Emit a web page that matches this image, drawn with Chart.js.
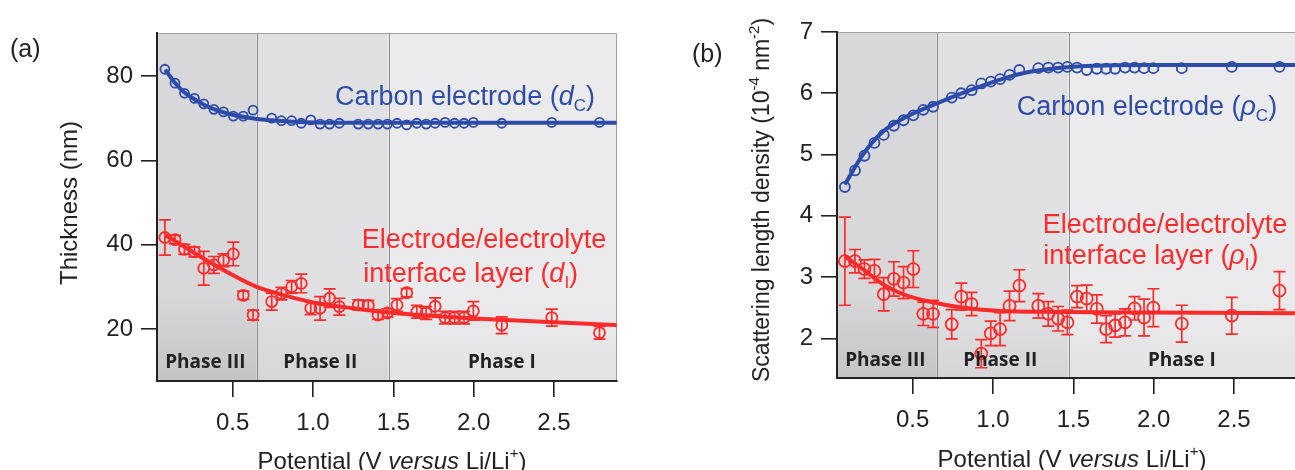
<!DOCTYPE html>
<html>
<head>
<meta charset="utf-8">
<script src="https://cdn.jsdelivr.net/npm/chart.js@4.4.0/dist/chart.umd.min.js"></script>
<style>
  html, body { margin: 0; padding: 0; background: #fff; overflow: hidden; }
  #wrap { position: relative; width: 1295px; height: 470px; overflow: hidden; }
  #boxA { position: absolute; left: 0; top: 0; }
  #boxB { position: absolute; left: 680px; top: 0; }
</style>
</head>
<body>
<div id="wrap">
  <div id="boxA"><canvas id="chartA" width="640" height="470"></canvas></div>
  <div id="boxB"><canvas id="chartB" width="640" height="470"></canvas></div>
</div>
<script>
// measured potentials (V vs Li/Li+), shared by all four series
const potential = [0.078, 0.141, 0.2, 0.262, 0.32, 0.383, 0.443, 0.504, 0.566, 0.627,
  0.743, 0.803, 0.867, 0.927, 0.986, 1.044, 1.103, 1.164, 1.282, 1.344, 1.405, 1.463,
  1.523, 1.583, 1.646, 1.704, 1.76, 1.822, 1.881, 1.94, 1.998, 2.175, 2.486, 2.783];

// (a) thickness, nm
const thickCarbon = [81.6, 78.3, 75.9, 74.7, 73.4, 72.1, 71.5, 70.5, 70.5, 71.9,
  70.0, 69.4, 69.4, 68.8, 69.6, 68.6, 68.6, 68.8, 68.6, 68.6, 68.6, 68.6,
  68.8, 68.4, 68.8, 68.6, 68.8, 69.0, 68.8, 68.8, 69.0, 68.8, 69.0, 69.0];
const thickLayer = [41.7, 41.2, 38.9, 38.3, 34.4, 35.2, 36.3, 37.8, 28.0, 23.3,
  26.5, 28.4, 30.0, 30.8, 24.9, 24.9, 27.3, 25.3, 25.7, 25.6, 23.3, 23.8,
  25.7, 28.6, 24.1, 23.8, 25.4, 22.7, 22.7, 22.7, 24.3, 20.9, 22.7, 19.1];
const thickLayerErr = [4.2, 1.0, 1.2, 1.2, 4.0, 2.0, 1.5, 2.8, 1.0, 1.2,
  2.0, 1.5, 1.5, 2.2, 1.5, 2.8, 2.2, 2.0, 1.2, 1.2, 1.0, 1.0,
  1.5, 1.0, 1.5, 1.5, 2.0, 1.5, 1.5, 1.5, 2.2, 2.0, 2.0, 1.5];

// (b) scattering length density, 10^-4 nm^-2
const sldCarbon = [4.47, 4.74, 4.98, 5.19, 5.32, 5.47, 5.56, 5.64, 5.73, 5.78,
  5.93, 6.00, 6.05, 6.16, 6.19, 6.23, 6.30, 6.38, 6.41, 6.42, 6.42, 6.43,
  6.42, 6.38, 6.40, 6.40, 6.40, 6.42, 6.42, 6.41, 6.41, 6.41, 6.43, 6.43];
const sldLayer = [3.26, 3.26, 3.13, 3.10, 2.72, 2.97, 2.91, 3.13, 2.40, 2.40,
  2.23, 2.68, 2.56, 1.75, 2.08, 2.15, 2.53, 2.86, 2.53, 2.40, 2.32, 2.26,
  2.68, 2.65, 2.48, 2.15, 2.21, 2.26, 2.49, 2.34, 2.50, 2.24, 2.37, 2.78];
const sldLayerErr = [0.72, 0.19, 0.15, 0.19, 0.27, 0.28, 0.26, 0.30, 0.19, 0.22,
  0.24, 0.22, 0.19, 0.23, 0.20, 0.27, 0.24, 0.26, 0.20, 0.20, 0.20, 0.20,
  0.18, 0.22, 0.23, 0.22, 0.19, 0.22, 0.19, 0.30, 0.31, 0.30, 0.30, 0.31];

// fitted curves
const fitThickCarbonV = [0.08, 0.14, 0.2, 0.27, 0.33, 0.4, 0.5, 0.6, 0.7, 0.85, 1.0, 1.2, 1.5, 2.0, 2.89];
const fitThickCarbon = [81.5, 78.4, 76.1, 74.3, 73.0, 71.9, 70.8, 70.1, 69.6, 69.2, 69.0, 68.9, 68.9, 68.9, 68.9];
const fitThickLayerV = [0.08, 0.2, 0.35, 0.5, 0.65, 0.8, 1.0, 1.25, 1.5, 1.75, 2.0, 2.5, 2.89];
const fitThickLayer = [42.3, 39.5, 36.0, 32.8, 30.0, 28.2, 26.3, 24.9, 23.8, 23.1, 22.5, 21.6, 20.9];
const fitSldCarbonV = [0.078, 0.19, 0.317, 0.44, 0.628, 0.857, 1.064, 1.23, 1.48, 2.0, 2.89];
const fitSldCarbon = [4.51, 5.0, 5.38, 5.59, 5.81, 6.05, 6.24, 6.35, 6.43, 6.46, 6.46];
const fitSldLayerV = [0.078, 0.19, 0.317, 0.44, 0.587, 0.815, 1.02, 1.44, 2.0, 2.89];
const fitSldLayer = [3.34, 3.13, 2.88, 2.72, 2.61, 2.50, 2.45, 2.43, 2.42, 2.41];

const phaseBounds = [0.65, 1.47];
const phaseNames = ['Phase III', 'Phase II', 'Phase I'];
const phaseLabelV = [0.33, 1.045, 2.175];
const xTicks = [0.5, 1.0, 1.5, 2.0, 2.5];
const yTicksA = [20, 40, 60, 80];
const yTicksB = [2, 3, 4, 5, 6, 7];

const BLUE = '#2d4caa';
const RED = '#ff2a2a';
const INK = '#222';
const FONT = '"Liberation Sans", Arial, sans-serif';

function pairs(xs, ys) {
  return xs.map((v, i) => ({x: v, y: ys[i]}));
}

// draws text made of differently styled pieces: [text, font, dy]
function richText(ctx, parts, x, y, align, rot) {
  ctx.save();
  ctx.translate(x, y);
  if (rot) ctx.rotate(rot);
  let w = 0;
  parts.forEach(p => { ctx.font = p[1]; w += ctx.measureText(p[0]).width; });
  let cx = align === 'center' ? -w / 2 : 0;
  ctx.textBaseline = 'alphabetic';
  ctx.textAlign = 'left';
  parts.forEach(p => {
    ctx.font = p[1];
    ctx.fillText(p[0], cx, p[2] || 0);
    cx += ctx.measureText(p[0]).width;
  });
  ctx.restore();
}

const errorBars = {
  id: 'errorBars',
  afterDatasetDraw(chart, args) {
    const ds = chart.data.datasets[args.index];
    if (!ds.errors) return;
    const {ctx, scales: {x, y}} = chart;
    ctx.save();
    ctx.strokeStyle = ds.borderColor;
    ctx.lineWidth = 1.7;
    ds.data.forEach((p, i) => {
      const e = ds.errors[i];
      const px = x.getPixelForValue(p.x);
      const top = y.getPixelForValue(p.y + e);
      const bot = y.getPixelForValue(p.y - e);
      ctx.beginPath();
      ctx.moveTo(px, top); ctx.lineTo(px, bot);
      ctx.moveTo(px - 6, top); ctx.lineTo(px + 6, top);
      ctx.moveTo(px - 6, bot); ctx.lineTo(px + 6, bot);
      ctx.stroke();
    });
    ctx.restore();
  }
};

const phaseShade = {
  id: 'phaseShade',
  beforeDraw(chart) {
    const {ctx, chartArea: a, scales: {x}} = chart;
    const edges = [a.left, x.getPixelForValue(phaseBounds[0]), x.getPixelForValue(phaseBounds[1]), a.right];
    const shades = [['#d8d8da', '#c4c4c6'], ['#e1e1e3', '#d6d6d8'], ['#ebebed', '#e3e3e5']];
    ctx.save();
    for (let i = 0; i < 3; i++) {
      const g = ctx.createLinearGradient(0, a.top, 0, a.bottom);
      g.addColorStop(0, shades[i][0]);
      g.addColorStop(0.75, shades[i][0]);
      g.addColorStop(1, shades[i][1]);
      ctx.fillStyle = g;
      ctx.fillRect(edges[i], a.top, edges[i + 1] - edges[i], a.bottom - a.top);
    }
    ctx.strokeStyle = '#8c8c8c';
    ctx.lineWidth = 1;
    [edges[1], edges[2]].forEach(px => {
      ctx.beginPath();
      ctx.moveTo(Math.round(px) + 0.5, a.top);
      ctx.lineTo(Math.round(px) + 0.5, a.bottom);
      ctx.stroke();
    });
    ctx.strokeStyle = '#a0a0a0';
    ctx.beginPath();
    ctx.moveTo(a.left, a.top + 0.5);
    ctx.lineTo(a.right - 0.5, a.top + 0.5);
    ctx.lineTo(a.right - 0.5, a.bottom);
    ctx.stroke();
    ctx.restore();
  }
};

function decoPlugin(cfg) {
  return {
    id: 'deco',
    afterDraw(chart) {
      const {ctx, chartArea: a, scales: {x, y}} = chart;
      const big = '27px ' + FONT, bigIt = 'italic 27px ' + FONT, sub = '17px ' + FONT;
      const lab = '24px ' + FONT, labIt = 'italic 24px ' + FONT;

      // series annotations
      cfg.notes.forEach(n => {
        ctx.fillStyle = n.color;
        const parts = [[n.text, big]];
        if (n.sym) parts.push([n.sym, bigIt], [n.sub, sub, 6], [')', big]);
        richText(ctx, parts, x.getPixelForValue(n.v), y.getPixelForValue(n.val), 'left');
      });

      // phase labels
      ctx.fillStyle = INK;
      phaseNames.forEach((name, i) => {
        richText(ctx, [[name, 'bold 19px "Open Sans", sans-serif']],
          x.getPixelForValue(phaseLabelV[i]), a.bottom - cfg.phaseDrop, 'center');
      });

      // axis titles
      richText(ctx, [['Potential (V ', lab], ['versus', labIt], [' Li/Li', lab], ['+', '15px ' + FONT, -11], [')', lab]],
        (a.left + a.right) / 2 + 5, cfg.xTitleY, 'center');
      richText(ctx, cfg.yTitle, cfg.yTitleX, cfg.yTitleY, 'center', -Math.PI / 2);

      // panel letter
      richText(ctx, [[cfg.letter, '25px ' + FONT]], cfg.letterX, cfg.letterY, 'left');
    }
  };
}

function scaleOpts(min, max, ticks, fmt, size, pad) {
  return {
    type: 'linear',
    min: min,
    max: max,
    afterBuildTicks: axis => { axis.ticks = ticks.map(v => ({value: v})); },
    afterFit: axis => { Object.assign(axis, size); },
    border: {display: true, color: INK, width: 2},
    grid: {drawOnChartArea: false, drawTicks: true, tickLength: 16, color: INK, lineWidth: 1.6},
    ticks: {color: INK, font: {family: FONT, size: 24}, padding: pad, callback: fmt}
  };
}

function makeChart(id, series, yMin, yMax, yTicks, yFmt, layoutTop, xHeight, deco) {
  return new Chart(document.getElementById(id), {
    type: 'scatter',
    data: {
      datasets: [
        {data: series.carbonPts, borderColor: BLUE, backgroundColor: 'rgba(0,0,0,0)',
          pointRadius: series.blueR, borderWidth: 1.8, order: 0},
        {data: series.layerPts, errors: series.layerErr, borderColor: RED, backgroundColor: 'rgba(0,0,0,0)',
          pointRadius: series.redR, borderWidth: 1.8, order: 0},
        {type: 'line', data: series.carbonFit, borderColor: BLUE, borderWidth: 4, pointRadius: 0,
          cubicInterpolationMode: 'monotone', fill: false, order: 1},
        {type: 'line', data: series.layerFit, borderColor: RED, borderWidth: 4, pointRadius: 0,
          cubicInterpolationMode: 'monotone', fill: false, order: 1}
      ]
    },
    options: {
      responsive: false,
      animation: false,
      layout: {padding: {left: 0, right: 23, top: layoutTop, bottom: 0}},
      plugins: {legend: {display: false}, tooltip: {enabled: false}},
      scales: {
        x: scaleOpts(0.029, 2.892, xTicks, v => v.toFixed(1), {height: xHeight}, 12),
        y: scaleOpts(yMin, yMax, yTicks, yFmt, {width: 157}, 8)
      }
    },
    plugins: [phaseShade, errorBars, decoPlugin(deco)]
  });
}

const lab = '24px ' + FONT;

makeChart('chartA', {
  carbonPts: pairs(potential, thickCarbon),
  layerPts: pairs(potential, thickLayer),
  layerErr: thickLayerErr,
  carbonFit: pairs(fitThickCarbonV, fitThickCarbon),
  layerFit: pairs(fitThickLayerV, fitThickLayer),
  blueR: 4.5, redR: 5.5
}, 7.67, 90.2, yTicksA, v => String(v), 33, 89, {
  notes: [
    {text: 'Carbon electrode (', sym: 'd', sub: 'C', color: BLUE, v: 1.137, val: 73.1},
    {text: 'Electrode/electrolyte', color: RED, v: 1.303, val: 39.2},
    {text: 'interface layer (', sym: 'd', sub: 'I', color: RED, v: 1.313, val: 31.2}
  ],
  phaseDrop: 13,
  xTitleY: 469,
  yTitle: [['Thickness (nm)', lab]],
  yTitleX: 77, yTitleY: 203,
  letter: '(a)', letterX: 10, letterY: 57
});

makeChart('chartB', {
  carbonPts: pairs(potential, sldCarbon),
  layerPts: pairs(potential, sldLayer),
  layerErr: sldLayerErr,
  carbonFit: pairs(fitSldCarbonV, fitSldCarbon),
  layerFit: pairs(fitSldLayerV, fitSldLayer),
  blueR: 5, redR: 6
}, 1.353, 7, yTicksB, v => String(v), 32, 92, {
  notes: [
    {text: 'Carbon electrode (', sym: '\u03c1', sub: 'C', color: BLUE, v: 1.148, val: 5.65},
    {text: 'Electrode/electrolyte', color: RED, v: 1.309, val: 3.72},
    {text: 'interface layer (', sym: '\u03c1', sub: 'I', color: RED, v: 1.313, val: 3.21}
  ],
  phaseDrop: 12,
  xTitleY: 467,
  yTitle: [['Scattering length density (10', '23px ' + FONT], ['-4', '15px ' + FONT, -10],
    [' nm', '23px ' + FONT], ['-2', '15px ' + FONT, -10], [')', '23px ' + FONT]],
  yTitleX: 89, yTitleY: 200,
  letter: '(b)', letterX: 12, letterY: 62
});
</script>
</body>
</html>
